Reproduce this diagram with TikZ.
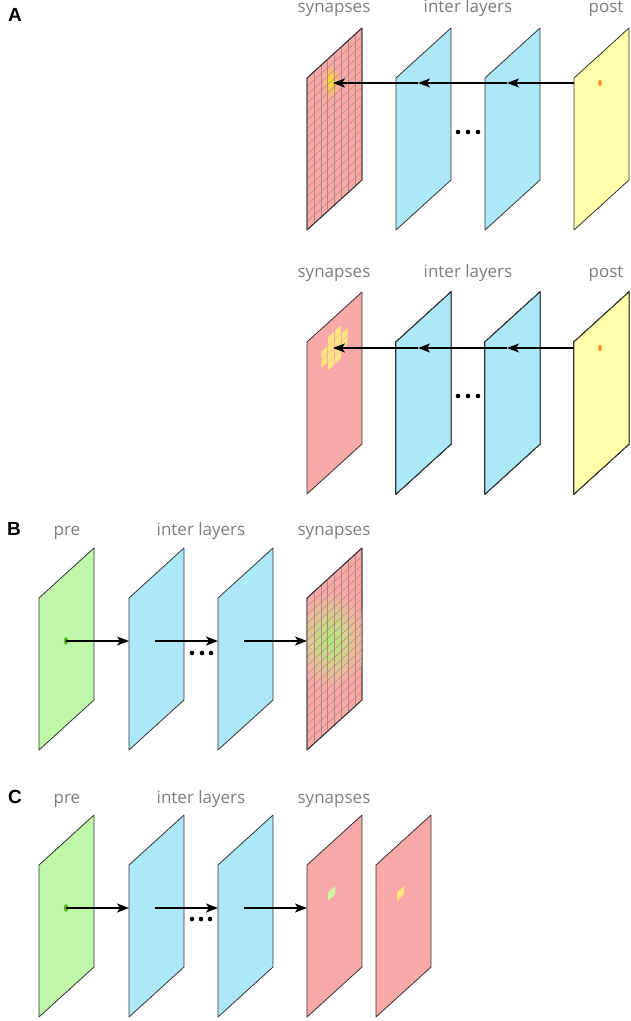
\documentclass[tikz,border=0pt]{standalone}
\usepackage{fontspec}
\setmainfont{Open Sans}
\newfontfamily\panelfont{Liberation Sans}
\usetikzlibrary{arrows.meta}

\definecolor{synpink}{RGB}{249,170,168}
\definecolor{interblue}{RGB}{173,232,249}
\definecolor{postyellow}{RGB}{255,255,170}
\definecolor{pregreen}{RGB}{190,248,168}
\definecolor{labelgray}{RGB}{125,125,125}
\definecolor{gridbrown}{RGB}{178,132,132}
\definecolor{spotyellow}{RGB}{250,225,40}
\definecolor{spotmid}{RGB}{250,200,100}
\definecolor{fieldgreen}{RGB}{170,240,120}
\definecolor{fieldtan}{RGB}{218,208,145}
\definecolor{cellyellow}{RGB}{255,228,130}
\definecolor{patchgreen}{RGB}{205,245,160}
\definecolor{postdot}{RGB}{245,160,60}
\definecolor{predot}{RGB}{85,185,35}

% one layer: left edge x, top-left y, fill
\newcommand{\layerplane}[3]{%
  \draw[planeline, fill=#3] (#1,#2) -- ++(55,-50) -- ++(0,152) -- ++(-55,50) -- cycle;}
% 8 x 18 synapse grid on a layer
\newcommand{\synapsegrid}[2]{%
  \foreach \i in {1,...,7}
    \draw[gridline] ({#1+\i*55/8},{#2-\i*50/8}) -- ++(0,152);
  \foreach \j in {1,...,17}
    \draw[gridline] (#1,{#2+\j*152/18}) -- ++(55,-50);
  \draw[planeline] (#1,#2) -- ++(55,-50) -- ++(0,152) -- ++(-55,50) -- cycle;}
\newcommand{\synapsecell}[4]{%
  \fill[cellyellow] ({#1+#3*55/8+0.6},{#2-#3*50/8+#4*152/18+5.3}) -- ++(5.7,-5.2) -- ++(0,7.6) -- ++(-5.7,5.2) -- cycle;}

\tikzset{
  planeline/.style={draw=black!80, line width=0.8pt, line join=round},
  gridline/.style={draw=gridbrown, line width=0.45pt},
  flow/.style={line width=1.6pt, -{Stealth[length=12pt,width=9pt,inset=3pt]}},
  shaft/.style={line width=1.6pt},
  layerlabel/.style={text=labelgray, font=\fontsize{17}{19}\selectfont, anchor=base},
  panellabel/.style={font=\panelfont\bfseries\fontsize{19}{21}\selectfont}
}

\begin{document}
\begin{tikzpicture}[x=1pt, y=-1pt]
 \useasboundingbox (0,0) rectangle (630,1021);

 % A, upper row
 \node[panellabel] (labA) at (15,15) {A};
 \node[layerlabel] (synAa) at (334,12) {synapses};
 \node[layerlabel] (intAa) at (468,12) {inter layers};
 \node[layerlabel] (postAa) at (606,12) {post};
 \layerplane{307}{78}{synpink}
 \begin{scope}
  \clip (307,78) -- ++(55,-50) -- ++(0,152) -- ++(-55,50) -- cycle;
  \foreach \k in {20,...,11} {
   \pgfmathtruncatemacro{\p}{(20-\k)*10}
   \fill[spotmid!\p!synpink] (331,82) ellipse [x radius={0.45*\k}, y radius={0.9*\k}];
  }
  \foreach \k in {10,...,1} {
   \pgfmathtruncatemacro{\p}{(11-\k)*10}
   \fill[spotyellow!\p!spotmid] (331,82) ellipse [x radius={0.45*\k}, y radius={0.9*\k}];
  }
 \end{scope}
 \synapsegrid{307}{78}
 \layerplane{396}{78}{interblue}
 \layerplane{485}{78}{interblue}
 \layerplane{574}{78}{postyellow}
 \fill[postdot] (600,83) ellipse [x radius=2, y radius=3.5];
 \fill (458,132) circle (2.3); \fill (468,132) circle (2.3); \fill (478,132) circle (2.3);

 \coordinate (ea4) at (574,83);
 \coordinate (ea3) at (485,83);
 \coordinate (ea2) at (396,83);
 \coordinate (ta3) at (507,83);
 \coordinate (ta2) at (418,83);
 \coordinate (ta1) at (333,83);
 \draw[flow] (ea4) -- (ta3);
 \draw[shaft] (ta3) -- (ea3);
 \draw[flow] (ea3) -- (ta2);
 \draw[shaft] (ta2) -- (ea2);
 \draw[flow] (ea2) -- (ta1);

 % A, lower row
 \node[layerlabel] (synAb) at (334,277) {synapses};
 \node[layerlabel] (intAb) at (468,277) {inter layers};
 \node[layerlabel] (postAb) at (606,277) {post};
 \layerplane{307}{342}{synpink}
 \foreach \c/\r in {2/2,2/3,3/1,3/2,3/3,3/4,4/1,4/2,4/3,4/4,5/2,5/3}
   \synapsecell{307}{342}{\c}{\r}
 \layerplane{396}{342}{interblue}
 \layerplane{485}{342}{interblue}
 \layerplane{574}{342}{postyellow}
 \fill[postdot] (600,348) ellipse [x radius=2, y radius=3.5];
 \fill (458,396) circle (2.3); \fill (468,396) circle (2.3); \fill (478,396) circle (2.3);

 \coordinate (eb4) at (574,348);
 \coordinate (eb3) at (485,348);
 \coordinate (eb2) at (396,348);
 \coordinate (tb3) at (507,348);
 \coordinate (tb2) at (418,348);
 \coordinate (tb1) at (333,348);
 \draw[flow] (eb4) -- (tb3);
 \draw[shaft] (tb3) -- (eb3);
 \draw[flow] (eb3) -- (tb2);
 \draw[shaft] (tb2) -- (eb2);
 \draw[flow] (eb2) -- (tb1);

 % B
 \node[panellabel] (labB) at (14,529) {B};
 \node[layerlabel] (preB) at (67,535) {pre};
 \node[layerlabel] (intB) at (201,535) {inter layers};
 \node[layerlabel] (synB) at (334,535) {synapses};
 \layerplane{39}{598}{pregreen}
 \layerplane{129}{598}{interblue}
 \layerplane{218}{598}{interblue}
 \layerplane{307}{598}{synpink}
 \begin{scope}
  \clip (307,598) -- ++(55,-50) -- ++(0,152) -- ++(-55,50) -- cycle;
  \foreach \k in {20,...,11} {
   \pgfmathtruncatemacro{\p}{(20-\k)*10}
   \fill[fieldtan!\p!synpink] (331,640) ellipse [x radius={1.8*\k}, y radius={2.5*\k}];
  }
  \foreach \k in {10,...,1} {
   \pgfmathtruncatemacro{\p}{(11-\k)*9}
   \fill[fieldgreen!\p!fieldtan] (331,640) ellipse [x radius={1.8*\k}, y radius={2.5*\k}];
  }
 \end{scope}
 \synapsegrid{307}{598}
 \fill[predot] (66,641) ellipse [x radius=2.2, y radius=3.8];
 \fill (192,653) circle (2.3); \fill (202,653) circle (2.3); \fill (211,653) circle (2.3);

 \coordinate (sb1) at (66,641);
 \coordinate (sb2) at (155,641);
 \coordinate (sb3) at (244,641);
 \coordinate (nb2) at (129,641);
 \coordinate (nb3) at (218,641);
 \coordinate (nb4) at (307,641);
 \draw[flow] (sb1) -- (nb2);
 \draw[flow] (sb2) -- (nb3);
 \draw[flow] (sb3) -- (nb4);

 % C
 \node[panellabel] (labC) at (15,797) {C};
 \node[layerlabel] (preC) at (67,803) {pre};
 \node[layerlabel] (intC) at (201,803) {inter layers};
 \node[layerlabel] (synC) at (334,803) {synapses};
 \layerplane{39}{865}{pregreen}
 \layerplane{129}{865}{interblue}
 \layerplane{218}{865}{interblue}
 \layerplane{307}{865}{synpink}
 \layerplane{376}{865}{synpink}
 \fill[patchgreen] (328,892.5) -- ++(7,-6.4) -- ++(0,8.4) -- ++(-7,6.4) -- cycle;
 \fill[cellyellow] (397,892.5) -- ++(7,-6.4) -- ++(0,8.4) -- ++(-7,6.4) -- cycle;
 \fill[predot] (66,908) ellipse [x radius=2.2, y radius=3.8];
 \fill (192,919) circle (2.3); \fill (201,919) circle (2.3); \fill (210,919) circle (2.3);

 \coordinate (sc1) at (66,908);
 \coordinate (sc2) at (155,908);
 \coordinate (sc3) at (244,908);
 \coordinate (nc2) at (129,908);
 \coordinate (nc3) at (218,908);
 \coordinate (nc4) at (307,908);
 \draw[flow] (sc1) -- (nc2);
 \draw[flow] (sc2) -- (nc3);
 \draw[flow] (sc3) -- (nc4);
\end{tikzpicture}
\end{document}
